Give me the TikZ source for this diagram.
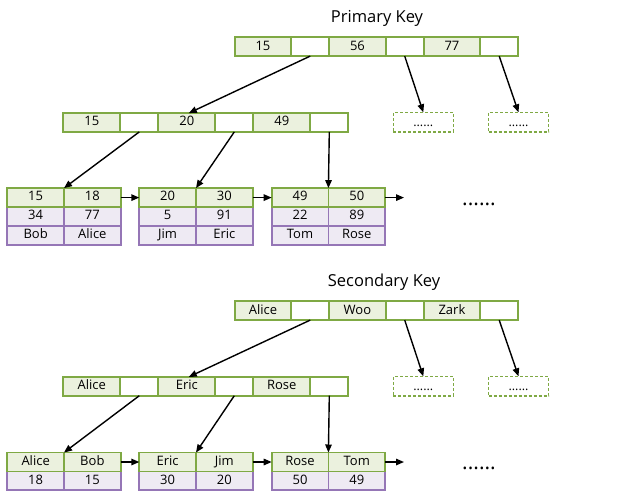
\documentclass[tikz,border=0pt]{standalone}
\usepackage{fontspec}
\setmainfont{Open Sans}
\usetikzlibrary{arrows.meta}
\definecolor{gborder}{HTML}{7FA944}
\definecolor{gfill}{HTML}{EBF1DE}
\definecolor{pborder}{HTML}{9576B6}
\definecolor{pfill}{HTML}{EEEAF3}
\tikzset{
  cellbase/.style={draw, line width=1.8pt, inner sep=0pt, outer sep=0pt, minimum height=18.8pt, font=\fontsize{13}{15}\selectfont, text height=9.3pt, text depth=2.7pt},
  keycell/.style={cellbase, draw=gborder, fill=gfill, minimum width=56.5pt, anchor=west},
  ptrcell/.style={cellbase, draw=gborder, fill=white, minimum width=38pt, anchor=west},
  leafkey/.style={cellbase, draw=gborder, fill=gfill, minimum width=56.7pt, minimum height=19pt, anchor=west},
  leafval/.style={cellbase, draw=pborder, fill=pfill, minimum width=56.7pt, minimum height=19pt, anchor=west},
  dbox/.style={draw=gborder, dash pattern=on 3pt off 2pt, line width=1.6pt, minimum width=60pt, minimum height=19.4pt, inner sep=0pt, outer sep=0pt},
  dots/.style={font=\fontsize{12.5}{14}\selectfont, anchor=base, inner sep=0pt},
  bigdots/.style={font=\fontsize{21}{22}\selectfont, anchor=base, inner sep=0pt},
  title/.style={font=\fontsize{16.5}{18}\selectfont, anchor=base, inner sep=0pt},
  conn/.style={-{Triangle[length=8pt,width=6.5pt]}, line width=1.4pt, black},
}
\begin{document}
\begin{tikzpicture}[x=1pt,y=-1pt]
\useasboundingbox (0,0) rectangle (631,499);
% ================= Primary =================
\node[title] (pt) at (377,22.7) {Primary Key};
% root
\node[keycell] (pa1) at (234.7,46.7) {15};
\node[ptrcell] (pa2) at (pa1.east) {};
\node[keycell] (pa3) at (pa2.east) {56};
\node[ptrcell] (pa4) at (pa3.east) {};
\node[keycell] (pa5) at (pa4.east) {77};
\node[ptrcell] (pa6) at (pa5.east) {};
% level 2
\node[keycell, minimum width=57pt] (pb1) at (63.3,122.5) {15};
\node[ptrcell] (pb2) at (pb1.east) {};
\node[keycell, minimum width=57pt] (pb3) at (pb2.east) {20};
\node[ptrcell] (pb4) at (pb3.east) {};
\node[keycell, minimum width=57pt] (pb5) at (pb4.east) {49};
\node[ptrcell] (pb6) at (pb5.east) {};
% dashed boxes
\node[dbox] (pd1) at (423.3,122) {};
\node[dots] (pd1t) at (423.3,126) {......};
\node[dbox] (pd2) at (518.5,122) {};
\node[dots] (pd2t) at (518.5,126) {......};
% leaves
\node[leafval] (pl1c) at (7.3,235.5) {Bob};
\node[leafval] (pl1f) at (pl1c.east) {Alice};
\node[leafval] (pl1b) at (7.3,216.5) {34};
\node[leafval] (pl1e) at (pl1b.east) {77};
\node[leafkey] (pl1a) at (7.3,197.6) {15};
\node[leafkey] (pl1d) at (pl1a.east) {18};
\node[leafval] (pl2c) at (139.3,235.5) {Jim};
\node[leafval] (pl2f) at (pl2c.east) {Eric};
\node[leafval] (pl2b) at (139.3,216.5) {5};
\node[leafval] (pl2e) at (pl2b.east) {91};
\node[leafkey] (pl2a) at (139.3,197.6) {20};
\node[leafkey] (pl2d) at (pl2a.east) {30};
\node[leafval] (pl3c) at (271.7,235.5) {Tom};
\node[leafval] (pl3f) at (pl3c.east) {Rose};
\node[leafval] (pl3b) at (271.7,216.5) {22};
\node[leafval] (pl3e) at (pl3b.east) {89};
\node[leafkey] (pl3a) at (271.7,197.6) {49};
\node[leafkey] (pl3d) at (pl3a.east) {50};
\coordinate (pend) at (404,197.6);
\node[bigdots] (pdots) at (479,205) {......};
% connectors
\draw[conn] (pa2.south) -- ([xshift=2pt]pb3.north);
\draw[conn] (pa4.south) -- (pd1.north);
\draw[conn] (pa6.south) -- (pd2.north);
\draw[conn] (pb2.south) -- (pl1a.north east);
\draw[conn] (pb4.south) -- (pl2a.north east);
\draw[conn] (pb6.south) -- (pl3a.north east);
\draw[conn] (pl1d.east) -- (pl2a.west);
\draw[conn] (pl2d.east) -- (pl3a.west);
\draw[conn] (pl3d.east) -- (pend);
% ================= Secondary =================
\node[title] (st) at (384,286.7) {Secondary Key};
\node[keycell] (sa1) at (234.7,310.7) {Alice};
\node[ptrcell] (sa2) at (sa1.east) {};
\node[keycell] (sa3) at (sa2.east) {Woo};
\node[ptrcell] (sa4) at (sa3.east) {};
\node[keycell] (sa5) at (sa4.east) {Zark};
\node[ptrcell] (sa6) at (sa5.east) {};
\node[keycell, minimum width=57pt] (sb1) at (63.3,386.3) {Alice};
\node[ptrcell] (sb2) at (sb1.east) {};
\node[keycell, minimum width=57pt] (sb3) at (sb2.east) {Eric};
\node[ptrcell] (sb4) at (sb3.east) {};
\node[keycell, minimum width=57pt] (sb5) at (sb4.east) {Rose};
\node[ptrcell] (sb6) at (sb5.east) {};
\node[dbox] (sd1) at (423.3,386) {};
\node[dots] (sd1t) at (423.3,390) {......};
\node[dbox] (sd2) at (518.5,386) {};
\node[dots] (sd2t) at (518.5,390) {......};
\node[leafval] (sl1b) at (7.3,480.8) {18};
\node[leafval] (sl1e) at (sl1b.east) {15};
\node[leafkey] (sl1a) at (7.3,462) {Alice};
\node[leafkey] (sl1d) at (sl1a.east) {Bob};
\node[leafval] (sl2b) at (139.3,480.8) {30};
\node[leafval] (sl2e) at (sl2b.east) {20};
\node[leafkey] (sl2a) at (139.3,462) {Eric};
\node[leafkey] (sl2d) at (sl2a.east) {Jim};
\node[leafval] (sl3b) at (271.7,480.8) {50};
\node[leafval] (sl3e) at (sl3b.east) {49};
\node[leafkey] (sl3a) at (271.7,462) {Rose};
\node[leafkey] (sl3d) at (sl3a.east) {Tom};
\coordinate (send) at (404,462);
\node[bigdots] (sdots) at (479,469.5) {......};
\draw[conn] (sa2.south) -- ([xshift=2pt]sb3.north);
\draw[conn] (sa4.south) -- (sd1.north);
\draw[conn] (sa6.south) -- (sd2.north);
\draw[conn] (sb2.south) -- (sl1a.north east);
\draw[conn] (sb4.south) -- (sl2a.north east);
\draw[conn] (sb6.south) -- (sl3a.north east);
\draw[conn] (sl1d.east) -- (sl2a.west);
\draw[conn] (sl2d.east) -- (sl3a.west);
\draw[conn] (sl3d.east) -- (send);
\end{tikzpicture}
\end{document}
